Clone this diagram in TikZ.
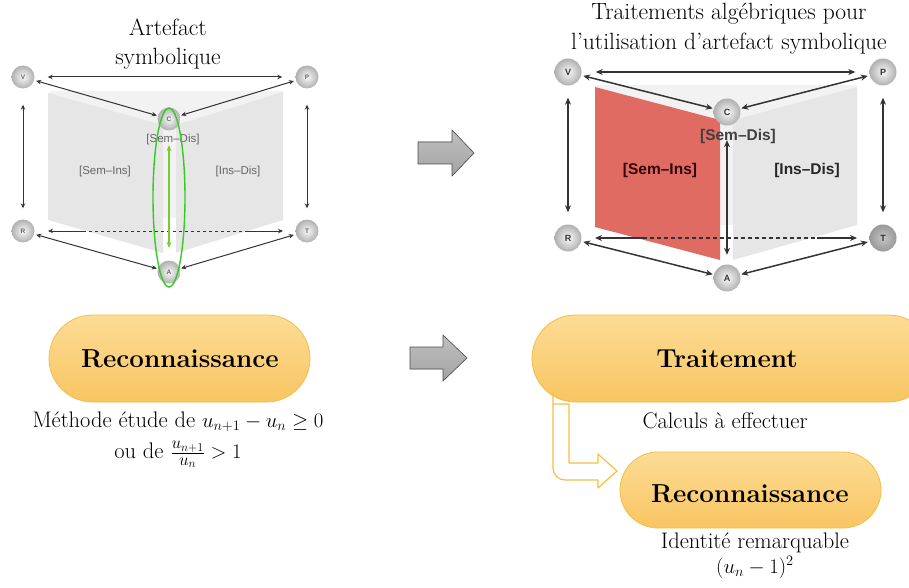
\documentclass[tikz,border=0pt]{standalone}
\usepackage{fontspec}
\newfontfamily\lsans{Liberation Sans}
\usetikzlibrary{arrows.meta,shapes.geometric,shapes.misc,calc}
\definecolor{panelgray}{HTML}{E6E6E6}
\definecolor{bggray}{HTML}{F2F2F2}
\definecolor{redpanel}{HTML}{E06B63}
\definecolor{boxtop}{HTML}{FDDC95}
\definecolor{boxbot}{HTML}{F8C562}
\definecolor{boxline}{HTML}{F5BD45}
\definecolor{ellgreen}{HTML}{33CC22}
\definecolor{arrgreen}{HTML}{77CC33}
\definecolor{linegray}{HTML}{333333}
\definecolor{blockfill}{HTML}{7A7A7A}
\newcommand{\fracpart}[1]{\mbox{\fontsize{16.5}{17}\selectfont$#1$}}
\begin{document}
\begin{tikzpicture}[x=1pt,y=-1pt,
  lball/.style={circle, minimum size=23pt, inner sep=0pt, inner color=white!95!gray, outer color=gray!62,
    font=\lsans\bfseries\fontsize{6.5}{6.5}\selectfont, text=black!60},
  rball/.style={circle, minimum size=27pt, inner sep=0pt, inner color=white!95!gray, outer color=gray!62,
    font=\lsans\bfseries\fontsize{9}{9}\selectfont, text=black!80},
  ltip/.style={{Stealth[length=5pt,width=4.5pt]}-{Stealth[length=5pt,width=4.5pt]}, line width=1pt, draw=linegray},
  ltipend/.style={-{Stealth[length=5pt,width=4.5pt]}, line width=1pt, draw=linegray},
  rtip/.style={{Stealth[length=7pt,width=6pt]}-{Stealth[length=7pt,width=6pt]}, line width=1.5pt, draw=linegray},
  rtipend/.style={-{Stealth[length=7pt,width=6pt]}, line width=1.5pt, draw=linegray},
  gtip/.style={{Stealth[length=6pt,width=5pt]}-{Stealth[length=6pt,width=5pt]}, line width=1.3pt, draw=arrgreen},
  plab/.style={font=\lsans\fontsize{11.5}{11.5}\selectfont, text=black!60},
  rplab/.style={font=\lsans\bfseries\fontsize{15.5}{15.5}\selectfont, text=black!85},
  txt/.style={font=\fontsize{22.5}{26}\selectfont, anchor=base},
  ttl/.style={font=\fontsize{23.5}{27}\selectfont, anchor=base},
  boxtxt/.style={font=\bfseries\fontsize{26}{30}\selectfont, anchor=base},
  ybox/.style={rounded rectangle, top color=boxtop, bottom color=boxbot, draw=boxline, line width=0.8pt, inner sep=0pt},
  blockarrow/.style={top color=gray!50, bottom color=gray!72, draw=black!70, line width=0.6pt},
]
\clip (0,0) rectangle (909,588);

% ================= LEFT DIAGRAM =================
\node[ttl] (tl1) at (168,36) {Artefact};
\node[ttl] (tl2) at (168,65) {symbolique};

\fill[bggray] (50,91) rectangle (283,218);
\fill[panelgray] (48,93) -- (163,125) -- (163,253) -- (48,220) -- cycle;
\fill[panelgray] (176,125) -- (283,92) -- (283,220) -- (176,253) -- cycle;

\node[plab] (sd1) at (173,140) {[Sem–Dis]};
\node[plab] (si1) at (105,172) {[Sem–Ins]};
\node[plab] (id1) at (238,172) {[Ins–Dis]};

\node[lball] (V1) at (23,77) {V};
\node[lball] (P1) at (307,77) {P};
\node[lball] (C1) at (169,119) {C};
\node[lball] (R1) at (23,231) {R};
\node[lball] (T1) at (307,231) {T};
\node[lball] (A1) at (169,272) {A};

\draw[ltip, shorten <=13pt, shorten >=13pt] (V1) -- (P1);
\draw[ltip, shorten <=16pt, shorten >=11pt] (V1) -- (R1);
\draw[ltip, shorten <=16pt, shorten >=11pt] (P1) -- (T1);
\draw[ltip, shorten <=2pt, shorten >=1pt] (V1) -- (C1);
\draw[ltip, shorten <=2pt, shorten >=1pt] (P1) -- (C1);
\draw[ltip, shorten <=2pt, shorten >=1pt] (R1) -- (A1);
\draw[ltip, shorten <=2pt, shorten >=1pt] (T1) -- (A1);
\coordinate (l1a) at (48,231);
\coordinate (l1b) at (83,231);
\coordinate (l1c) at (248,231);
\coordinate (l1d) at (283,231);
\draw[ltipend] (l1b) -- (l1a);
\draw[line width=1pt, draw=linegray, dash pattern=on 3pt off 3pt] (l1b) -- (l1c);
\draw[ltipend] (l1c) -- (l1d);

\node[ellipse, draw=ellgreen, line width=1.4pt, minimum width=32pt, minimum height=179pt, inner sep=0pt] (E1) at (169,197.5) {};
\draw[gtip, shorten <=14.5pt, shorten >=12.5pt] (C1) -- (A1);

% ================= BLOCK ARROWS =================
\fill[blockfill, blockarrow] (418,142) -- (452,142) -- (452,130) -- (474,153) -- (452,176) -- (452,164) -- (418,164) -- cycle;
\fill[blockfill, blockarrow] (410,347) -- (443,347) -- (443,335) -- (467,358) -- (443,381) -- (443,369) -- (410,369) -- cycle;

% ================= RIGHT DIAGRAM =================
\node[ttl] (tr1) at (729,20) {Traitements algébriques pour};
\node[ttl] (tr2) at (729,50) {l’utilisation d’artefact symbolique};

\fill[bggray] (595,85) rectangle (857,225);
\fill[panelgray] (733,120) -- (857,87) -- (857,225) -- (733,260) -- cycle;
\fill[redpanel] (595,87) -- (720,120) -- (720,260) -- (595,227) -- cycle;

\node[rball] (V2) at (568,72) {V};
\node[rball] (P2) at (883,72) {P};
\node[rball] (C2) at (727,112) {C};
\node[rball] (R2) at (568,238) {R};
\node[rball, inner color=gray!45, outer color=gray!80] (T2) at (883,238) {T};
\node[rball] (A2) at (727,278) {A};

\draw[rtip, shorten <=14pt, shorten >=14pt] (V2) -- (P2);
\draw[rtip, shorten <=12pt, shorten >=12pt] (V2) -- (R2);
\draw[rtip, shorten <=12pt, shorten >=12pt] (P2) -- (T2);
\draw[rtip, shorten <=2pt, shorten >=1pt] (V2) -- (C2);
\draw[rtip, shorten <=2pt, shorten >=1pt] (P2) -- (C2);
\draw[rtip, shorten <=2pt, shorten >=1pt] (R2) -- (A2);
\draw[rtip, shorten <=2pt, shorten >=1pt] (T2) -- (A2);
\coordinate (r1a) at (595,238);
\coordinate (r1b) at (643,238);
\coordinate (r1c) at (817,238);
\coordinate (r1d) at (857,238);
\draw[rtipend] (r1b) -- (r1a);
\draw[line width=1.5pt, draw=linegray, dash pattern=on 3.5pt off 3.5pt] (r1b) -- (r1c);
\draw[rtipend] (r1c) -- (r1d);
\draw[rtip, shorten <=14.5pt, shorten >=9.5pt] (C2) -- (A2);

\node[rplab, text=black!75] (sd2) at (738,136) {[Sem–Dis]};
\node[rplab, text=black!80!red] (si2) at (660,170) {[Sem–Ins]};
\node[rplab] (id2) at (807,170) {[Ins–Dis]};

% ================= BOXES =================
\node[ybox, minimum width=261pt, minimum height=87pt] (rec1) at (179.5,358.5) {};
\node[boxtxt] at (180,367) {Reconnaissance};
\node[txt] (m1) at (178,427) {Méthode étude de $u_{n+1}-u_n\geq 0$};
\node[txt] (m2) at (178,458) {ou de $\frac{\fracpart{u_{n+1}}}{\fracpart{u_n}}>1$};

\node[ybox, minimum width=400pt, minimum height=87pt] (trt) at (732,358.5) {};
\node[boxtxt] at (727,367) {Traitement};
\node[txt] (c1) at (725,428) {Calculs à effectuer};

\node[ybox, minimum width=261pt, minimum height=76pt] (rec2) at (750.5,490) {};
\node[boxtxt] at (750,502) {Reconnaissance};
\node[txt] (i1) at (755,548) {Identité remarquable};
\node[txt] (i2) at (755,573) {$(u_n-1)^2$};

% hollow bent arrow
\draw[fill=white, draw=boxline, line width=1.2pt, line join=round]
  (553,404) -- (569,404) -- (569,463) -- (598,463) -- (598,454) -- (617,471) -- (598,488) -- (598,480)
  {[rounded corners=12pt] -- (553,480) -- (553,404)} -- cycle;
\end{tikzpicture}
\end{document}
